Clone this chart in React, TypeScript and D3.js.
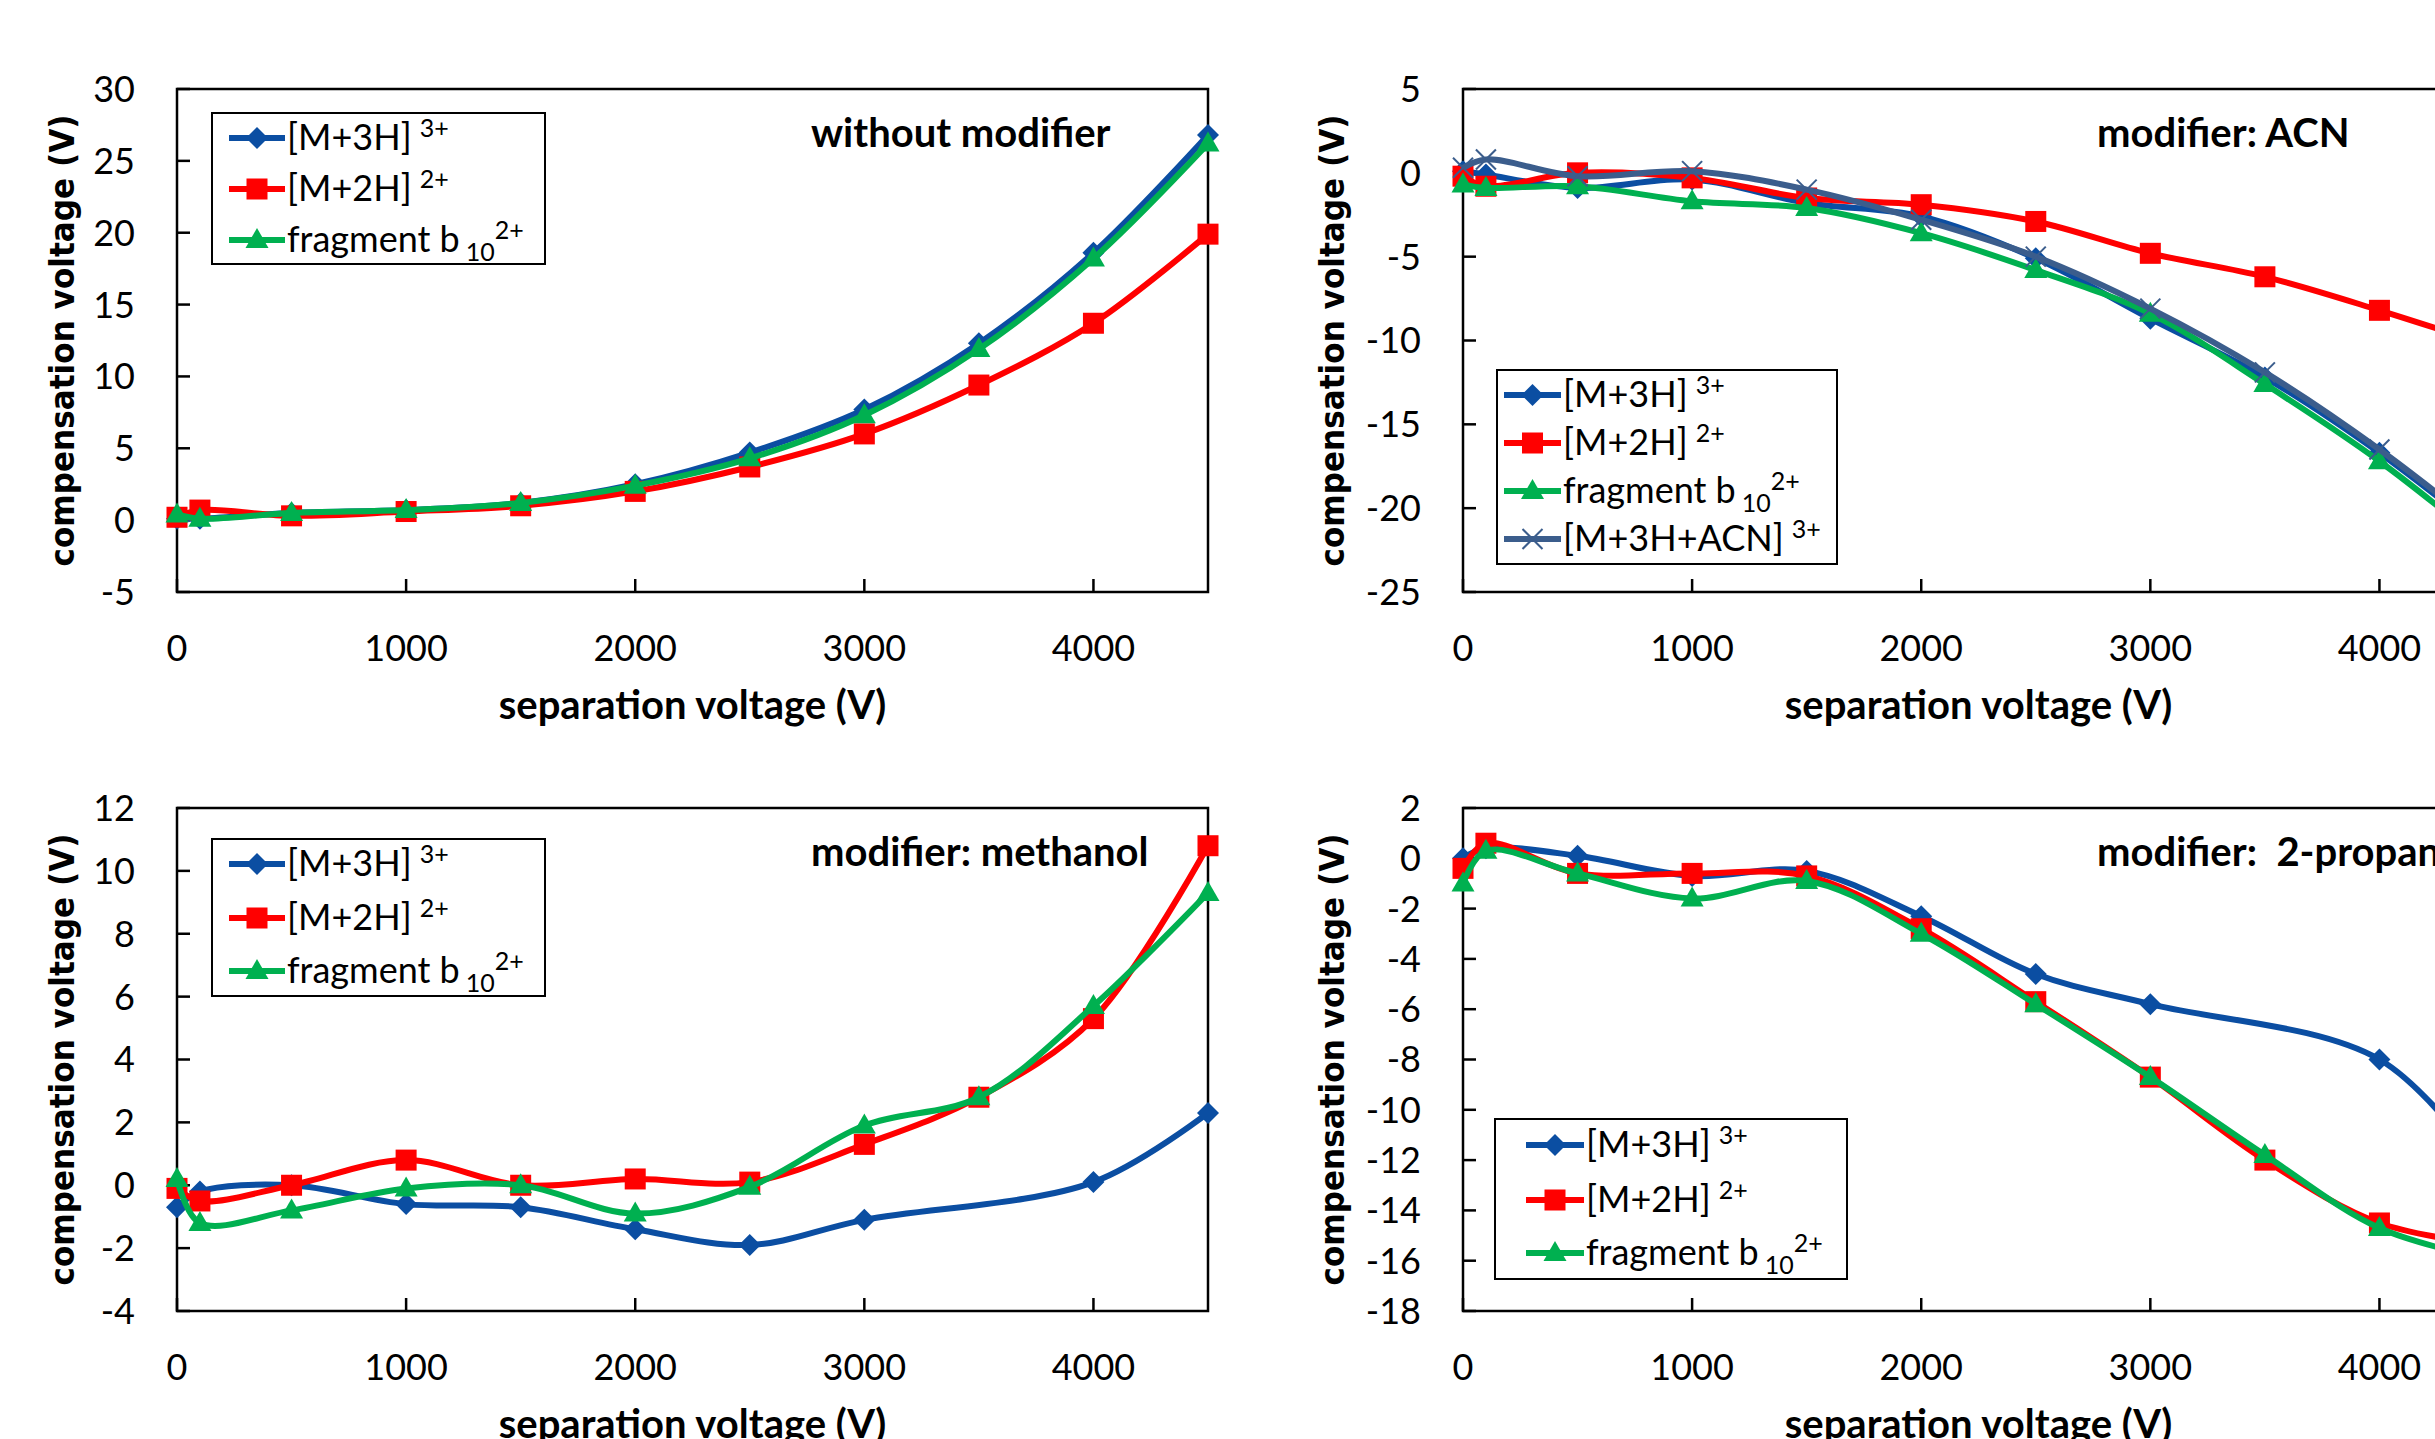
import React from "react";
import * as d3 from "d3";

// separation voltage (V), shared x values of all four panels
const sepVoltage = [0, 100, 500, 1000, 1500, 2000, 2500, 3000, 3500, 4000, 4500];
const xTicks = [0, 1000, 2000, 3000, 4000];

// without modifier
const noModM3H = [0.1, 0.1, 0.5, 0.7, 1.2, 2.5, 4.7, 7.7, 12.3, 18.6, 26.8];
const noModM2H = [0.2, 0.7, 0.3, 0.6, 1.0, 2.0, 3.7, 6.0, 9.4, 13.7, 19.9];
const noModB10 = [0.4, 0.1, 0.5, 0.7, 1.2, 2.4, 4.3, 7.3, 11.9, 18.2, 26.2];

// modifier: ACN
const acnM3H = [0.1, -0.1, -0.9, -0.4, -1.8, -2.6, -5.1, -8.7, -12.2, -16.7, -22.0];
const acnM2H = [-0.2, -0.8, 0.0, -0.3, -1.5, -1.9, -2.9, -4.8, -6.2, -8.2, -10.4];
const acnB10 = [-0.7, -0.9, -0.8, -1.7, -2.1, -3.6, -5.8, -8.4, -12.6, -17.2, -22.6];
const acnM3HACN = [0.3, 0.8, -0.2, 0.1, -1.0, -2.8, -5.0, -8.1, -11.9, -16.5, -21.8];

// modifier: methanol (no [M+3H] point at 3500)
const methM3H = [-0.7, -0.2, 0.0, -0.6, -0.7, -1.4, -1.9, -1.1, null, 0.1, 2.3];
const methM2H = [-0.1, -0.5, 0.0, 0.8, 0.0, 0.2, 0.1, 1.3, 2.8, 5.3, 10.8];
const methB10 = [0.2, -1.2, -0.8, -0.1, 0.0, -0.9, -0.05, 1.9, 2.8, 5.7, 9.3];

// modifier: 2-propanol (no [M+3H] point at 3500)
const propM3H = [0.0, 0.4, 0.1, -0.7, -0.5, -2.3, -4.6, -5.8, null, -8.0, -12.8];
const propM2H = [-0.4, 0.6, -0.6, -0.6, -0.7, -2.8, -5.7, -8.7, -12.0, -14.5, -15.4];
const propB10 = [-1.0, 0.3, -0.6, -1.6, -0.9, -3.0, -5.8, -8.7, -11.8, -14.7, -16.0];

const BLUE = "#0B4EA2";
const RED = "#FF0000";
const GREEN = "#00B050";
const SLATE = "#3B5D8C";

const PLOT_W = 1031;
const PLOT_H = 503;
const FONT = "Lato, 'Open Sans', sans-serif";

type Marker = "diamond" | "square" | "triangle" | "x";
type Series = { label: string; sup: string; sub?: string; values: (number | null)[]; color: string; marker: Marker };

const m3h = (v: (number | null)[]): Series => ({ label: "[M+3H]", sup: "3+", values: v, color: BLUE, marker: "diamond" });
const m2h = (v: (number | null)[]): Series => ({ label: "[M+2H]", sup: "2+", values: v, color: RED, marker: "square" });
const b10 = (v: (number | null)[]): Series => ({ label: "fragment b", sub: "10", sup: "2+", values: v, color: GREEN, marker: "triangle" });

const panels = [
  {
    left: 177, top: 89, y: [-5, 30], step: 5, title: "without modifier", yLabelX: 62,
    series: [m3h(noModM3H), m2h(noModM2H), b10(noModB10)],
    legend: { x: 212, y: 113, w: 333, h: 151, rows: [138, 189, 240], l1: 229, l2: 285, tx: 287 },
  },
  {
    left: 1463, top: 89, y: [-25, 5], step: 5, title: "modifier: ACN", yLabelX: 1332,
    series: [m3h(acnM3H), m2h(acnM2H), b10(acnB10),
      { label: "[M+3H+ACN]", sup: "3+", values: acnM3HACN, color: SLATE, marker: "x" as Marker }],
    legend: { x: 1497, y: 370, w: 340, h: 194, rows: [395, 443, 491, 539], l1: 1504, l2: 1561, tx: 1563 },
  },
  {
    left: 177, top: 808, y: [-4, 12], step: 2, title: "modifier: methanol", yLabelX: 62,
    series: [m3h(methM3H), m2h(methM2H), b10(methB10)],
    legend: { x: 212, y: 839, w: 333, h: 157, rows: [864, 918, 971], l1: 229, l2: 285, tx: 287 },
  },
  {
    left: 1463, top: 808, y: [-18, 2], step: 2, title: "modifier:  2-propanol", yLabelX: 1332,
    series: [m3h(propM3H), m2h(propM2H), b10(propB10)],
    legend: { x: 1495, y: 1119, w: 352, h: 160, rows: [1145, 1200, 1253], l1: 1526, l2: 1584, tx: 1586 },
  },
];

function MarkerShape({ type, color, x, y }: { type: Marker; color: string; x: number; y: number }) {
  if (type === "diamond") {
    const r = 11;
    return <path d={`M${x},${y - r}L${x + r},${y}L${x},${y + r}L${x - r},${y}Z`} fill={color} />;
  }
  if (type === "square") {
    const s = 21;
    return <rect x={x - s / 2} y={y - s / 2} width={s} height={s} fill={color} />;
  }
  if (type === "triangle") {
    const w = 23, h = 20;
    return <path d={`M${x},${y - h * 0.6}L${x + w / 2},${y + h * 0.4}L${x - w / 2},${y + h * 0.4}Z`} fill={color} />;
  }
  const r = 10;
  return (
    <g stroke={color} strokeWidth={2}>
      <line x1={x - r} y1={y - r} x2={x + r} y2={y + r} />
      <line x1={x - r} y1={y + r} x2={x + r} y2={y - r} />
    </g>
  );
}

function LegendLabel({ s, x, y }: { s: Series; x: number; y: number }) {
  return (
    <text x={x} y={y} fontSize={36} fontFamily={FONT} fill="#000">
      {s.label}
      {s.sub ? (
        <>
          <tspan dx={6} dy={9} fontSize={25}>{s.sub}</tspan>
          <tspan dy={-22} fontSize={25}>{s.sup}</tspan>
        </>
      ) : (
        <tspan dx={8} dy={-13} fontSize={25}>{s.sup}</tspan>
      )}
    </text>
  );
}

function Panel({ p }: { p: (typeof panels)[number] }) {
  const x = d3.scaleLinear().domain([0, 4500]).range([p.left, p.left + PLOT_W]);
  const y = d3.scaleLinear().domain(p.y).range([p.top + PLOT_H, p.top]);
  const yTicks = d3.range(p.y[0], p.y[1] + 0.001, p.step);
  const bottom = p.top + PLOT_H;

  const line = d3.line<[number, number]>()
    .x(d => x(d[0]))
    .y(d => y(d[1]))
    .curve(d3.curveCatmullRom.alpha(0.5));

  return (
    <g>
      {/* plot box */}
      <rect x={p.left} y={p.top} width={PLOT_W} height={PLOT_H} fill="none" stroke="#000" strokeWidth={2.5} />
      {yTicks.map(t => (
        <g key={"y" + t}>
          <line x1={p.left} x2={p.left + 13} y1={y(t)} y2={y(t)} stroke="#000" strokeWidth={2.5} />
          <text x={p.left - 42} y={y(t)} dy="0.36em" textAnchor="end" fontSize={36} fontFamily={FONT}>{String(t)}</text>
        </g>
      ))}
      {xTicks.map(t => (
        <g key={"x" + t}>
          <line x1={x(t)} x2={x(t)} y1={bottom} y2={bottom - 13} stroke="#000" strokeWidth={2.5} />
          <text x={x(t)} y={bottom + 69} textAnchor="middle" fontSize={36} fontFamily={FONT}>{t}</text>
        </g>
      ))}
      <text x={p.left + PLOT_W / 2} y={bottom + 127} textAnchor="middle" fontSize={40} fontWeight="bold" fontFamily={FONT}>
        separation voltage (V)
      </text>
      <text transform={`translate(${p.yLabelX},${p.top + PLOT_H / 2}) rotate(-90)`} dy="0.36em" textAnchor="middle"
        fontSize={34} fontWeight="bold" fontFamily="'DejaVu Sans', Verdana, sans-serif" textLength={452} lengthAdjust="spacingAndGlyphs">
        compensation voltage (V)
      </text>
      <text x={p.left + 634} y={p.top + 58} fontSize={40} fontWeight="bold" fontFamily={FONT} style={{ whiteSpace: "pre" }}>
        {p.title}
      </text>

      {p.series.map((s, i) => {
        const pts = sepVoltage
          .map((v, j) => [v, s.values[j]] as [number, number | null])
          .filter(d => d[1] !== null) as [number, number][];
        return (
          <g key={i}>
            <path d={line(pts) ?? ""} fill="none" stroke={s.color} strokeWidth={6} strokeLinejoin="round" />
            {pts.map((d, j) => <MarkerShape key={j} type={s.marker} color={s.color} x={x(d[0])} y={y(d[1])} />)}
          </g>
        );
      })}

      {/* legend */}
      <rect x={p.legend.x} y={p.legend.y} width={p.legend.w} height={p.legend.h} fill="#fff" stroke="#000" strokeWidth={2} />
      {p.series.map((s, i) => {
        const ry = p.legend.rows[i];
        return (
          <g key={"l" + i}>
            <line x1={p.legend.l1} x2={p.legend.l2} y1={ry} y2={ry} stroke={s.color} strokeWidth={6} />
            <MarkerShape type={s.marker} color={s.color} x={(p.legend.l1 + p.legend.l2) / 2} y={ry} />
            <LegendLabel s={s} x={p.legend.tx} y={ry + 12} />
          </g>
        );
      })}
    </g>
  );
}

export default function App() {
  React.useEffect(() => {
    document.body.style.margin = "0";
    document.body.style.overflow = "hidden";
  }, []);
  return (
    <svg width={2435} height={1439} style={{ position: "absolute", left: 0, top: 0, background: "#fff" }}>
      {panels.map((p, i) => <Panel key={i} p={p} />)}
    </svg>
  );
}
